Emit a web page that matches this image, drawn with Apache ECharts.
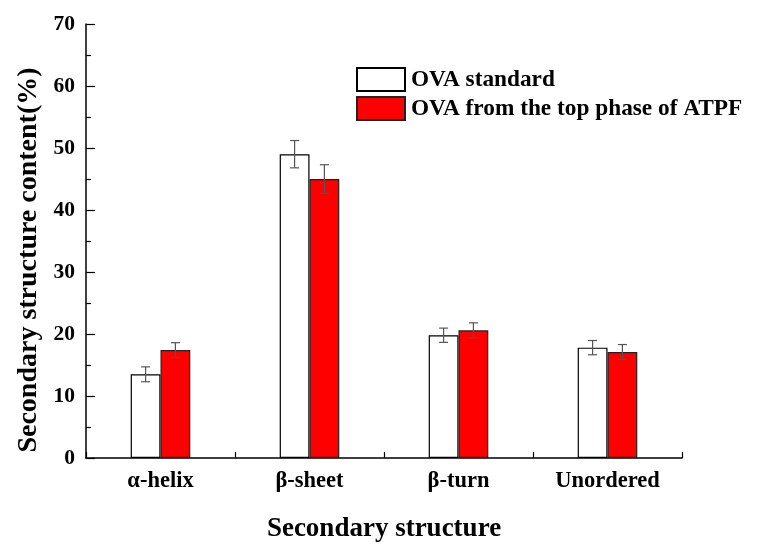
<!DOCTYPE html>
<html>
<head>
<meta charset="utf-8">
<script src="https://cdn.jsdelivr.net/npm/echarts@6/dist/echarts.min.js"></script>
<style>html,body{margin:0;padding:0;background:#fff}#c{width:760px;height:545px}</style>
</head>
<body>
<div id="c"></div>
<script>
const categories = ['α-helix', 'β-sheet', 'β-turn', 'Unordered'];
const seriesNames = ['OVA standard', 'OVA from the top phase of ATPF'];
const standardValues = [13.5, 49.0, 19.8, 17.8];
const standardErrors = [1.2, 2.2, 1.15, 1.15];
const atpfValues = [17.4, 45.0, 20.6, 17.1];
const atpfErrors = [1.2, 2.3, 1.2, 1.2];
const yTicks = [0, 10, 20, 30, 40, 50, 60, 70];

const FONT = '"Liberation Serif", "Times New Roman", serif';
const BAR_FRAC = 0.2;

function errorSeries(values, errors, side) {
  const data = values.map((v, i) => [i, v, errors[i]]);
  return {
    type: 'custom',
    silent: true,
    z: 10,
    data: data,
    encode: { x: 0, y: 1 },
    renderItem: function (params, api) {
      const i = api.value(0), v = api.value(1), e = api.value(2);
      const bw = api.size([1, 0])[0] * BAR_FRAC;
      const c = api.coord([i, v]);
      const x = c[0] + side * bw / 2;
      const top = api.coord([i, v + e])[1];
      const bot = api.coord([i, v - e])[1];
      const cap = 4.5;
      const style = { stroke: '#555', lineWidth: 1.2 };
      return {
        type: 'group',
        children: [
          { type: 'line', shape: { x1: x, y1: top, x2: x, y2: bot }, style: style },
          { type: 'line', shape: { x1: x - cap, y1: top, x2: x + cap, y2: top }, style: style },
          { type: 'line', shape: { x1: x - cap, y1: bot, x2: x + cap, y2: bot }, style: style }
        ]
      };
    }
  };
}

const chart = echarts.init(document.getElementById('c'));
chart.setOption({
  animation: false,
  backgroundColor: '#fff',
  grid: { left: 86, right: 78, top: 24, bottom: 87, containLabel: false, outerBoundsMode: 'none' },
  legend: {
    orient: 'vertical',
    left: 351,
    top: 62,
    itemWidth: 48,
    itemHeight: 23,
    itemGap: 4,
    icon: 'rect',
    textStyle: { fontFamily: FONT, fontWeight: 'bold', fontSize: 23.3, lineHeight: 23, color: '#000', padding: [0, 0, 0, 1] },
    data: seriesNames
  },
  xAxis: {
    type: 'category',
    data: categories,
    name: 'Secondary structure',
    nameLocation: 'middle',
    nameGap: 58,
    nameTextStyle: { fontFamily: FONT, fontWeight: 'bold', fontSize: 27, color: '#000' },
    axisLine: { lineStyle: { color: '#000', width: 1.5 } },
    axisTick: { show: true, inside: true, length: 6, lineStyle: { color: '#000', width: 1.2 } },
    axisLabel: { fontFamily: FONT, fontWeight: 'bold', fontSize: 22.5, color: '#000', margin: 12 },
    splitLine: { show: false }
  },
  yAxis: {
    type: 'value',
    min: 0,
    max: 70,
    interval: 10,
    name: 'Secondary structure content(%)',
    nameLocation: 'middle',
    nameGap: 43,
    nameRotate: 90,
    nameTextStyle: { fontFamily: FONT, fontWeight: 'bold', fontSize: 28, color: '#000', padding: [0, 38, 0, 0] },
    axisLine: { show: true, lineStyle: { color: '#000', width: 1.5 } },
    axisTick: { show: true, inside: true, length: 9, lineStyle: { color: '#000', width: 1.2 } },
    minorTick: { show: true, splitNumber: 2, length: 5, lineStyle: { color: '#000', width: 1.2 } },
    axisLabel: {
      fontFamily: FONT, fontWeight: 'bold', fontSize: 21.5, color: '#000', margin: 11,
      formatter: function (v) { return yTicks.indexOf(v) >= 0 ? String(v) : ''; }
    },
    splitLine: { show: false }
  },
  series: [
    {
      name: seriesNames[0],
      type: 'bar',
      data: standardValues,
      barWidth: (BAR_FRAC * 100) + '%',
      barGap: '0%',
      itemStyle: { color: '#ffffff', borderColor: '#000', borderWidth: 1.2 }
    },
    {
      name: seriesNames[1],
      type: 'bar',
      data: atpfValues,
      barWidth: (BAR_FRAC * 100) + '%',
      barGap: '0%',
      itemStyle: { color: '#ff0000', borderColor: '#222', borderWidth: 1.2 }
    },
    errorSeries(standardValues, standardErrors, -1),
    errorSeries(atpfValues, atpfErrors, 1)
  ]
});
</script>
</body>
</html>
